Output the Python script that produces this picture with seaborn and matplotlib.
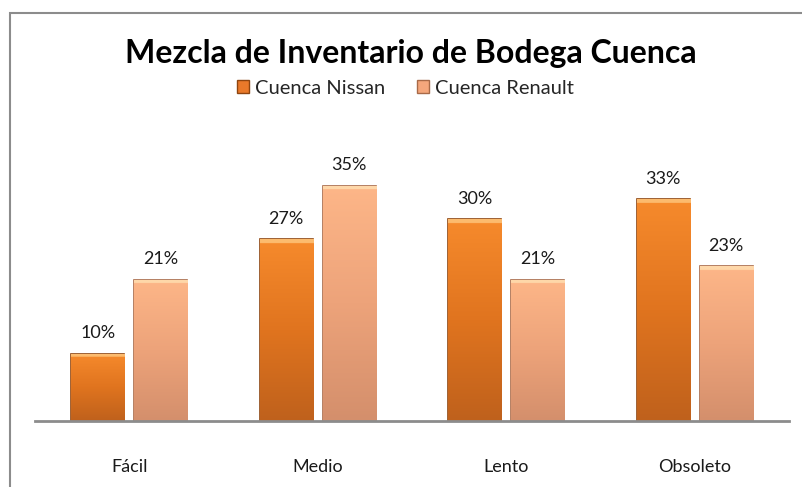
import numpy as np
import pandas as pd
import matplotlib.pyplot as plt
import seaborn as sns
from matplotlib.patches import Rectangle
from matplotlib.colors import LinearSegmentedColormap

# Datos del grafico
categorias = ['Fácil', 'Medio', 'Lento', 'Obsoleto']
nissan = [10, 27, 30, 33]
renault = [21, 35, 21, 23]
series = ['Cuenca Nissan', 'Cuenca Renault']

data = pd.DataFrame({
    'categoria': categorias * 2,
    'serie': [series[0]] * 4 + [series[1]] * 4,
    'valor': nissan + renault,
})

sns.set_theme(style="white")
plt.rcParams['font.family'] = ['Lato', 'DejaVu Sans']

colores = {'Cuenca Nissan': '#E9792A', 'Cuenca Renault': '#F5A77C'}
bordes = {'Cuenca Nissan': '#8E4510', 'Cuenca Renault': '#A86A48'}
# degradado de abajo hacia arriba
degradados = {
    'Cuenca Nissan': ['#BF611C', '#E0741F', '#F68A2C', '#FFD08A'],
    'Cuenca Renault': ['#D48F6C', '#EDA37A', '#FDB688', '#FFE6B8'],
}

fig = plt.figure(figsize=(8.03, 4.87), dpi=100)
ax = fig.add_axes([35 / 803, 1 - 421 / 487, 754 / 803, 269 / 487])

sns.barplot(data=data, x='categoria', y='valor', hue='serie', order=categorias,
            hue_order=series, palette=colores, width=0.67, gap=0.16,
            saturation=1, ax=ax, legend=False)

for cont, s in zip(ax.containers, series):
    cmap = LinearSegmentedColormap.from_list(s, degradados[s])
    for barra in cont:
        barra.set_edgecolor(bordes[s])
        barra.set_linewidth(1.2)
        x0, y0 = barra.get_x(), barra.get_y()
        w, h = barra.get_width(), barra.get_height()
        # gradiente vertical con un brillo fino arriba
        t = np.linspace(0, 1, 400)
        brillo = np.where(t > 1 - 0.55 / h, 0.9, t * 0.67)
        img = ax.imshow(brillo[:, None], origin='lower', aspect='auto', cmap=cmap,
                        vmin=0, vmax=1, extent=(x0, x0 + w, y0, y0 + h), zorder=2)
        img.set_clip_path(barra)
    ax.bar_label(cont, labels=[f'{v:.0f}%' for v in cont.datavalues],
                 padding=9, fontsize=13, color='#1a1a1a')

ax.set_ylim(0, 40)
ax.set_xlim(-0.5, 3.5)
ax.set_xlabel('')
ax.set_ylabel('')
ax.set_yticks([])
ax.tick_params(axis='x', length=0, pad=27, labelsize=13, colors='#1a1a1a')
for lado in ['top', 'right', 'left']:
    ax.spines[lado].set_visible(False)
ax.spines['bottom'].set_color('#8c8c8c')
ax.spines['bottom'].set_linewidth(2)
ax.spines['bottom'].set_zorder(5)

# Titulo y leyenda
fig.text(0.512, 1 - 54 / 487, 'Mezcla de Inventario de Bodega Cuenca',
         ha='center', va='center', fontsize=23, fontweight='bold', color='black')

manijas = [Rectangle((0, 0), 1, 1, facecolor=colores[s], edgecolor=bordes[s]) for s in series]
fig.legend(manijas, series, loc='center', bbox_to_anchor=(0.505, 1 - 88 / 487),
           ncol=2, frameon=False, fontsize=14.5, handlelength=0.6, handleheight=0.6,
           handletextpad=0.3, columnspacing=1.6)

# Marco del grafico
fig.patches.append(Rectangle((10.5 / 803, -0.05), 1.0, 1 - 13 / 487 + 0.05,
                             transform=fig.transFigure, fill=False,
                             edgecolor='#8c8c8c', linewidth=1.5))

plt.savefig('out.png', dpi=100)
